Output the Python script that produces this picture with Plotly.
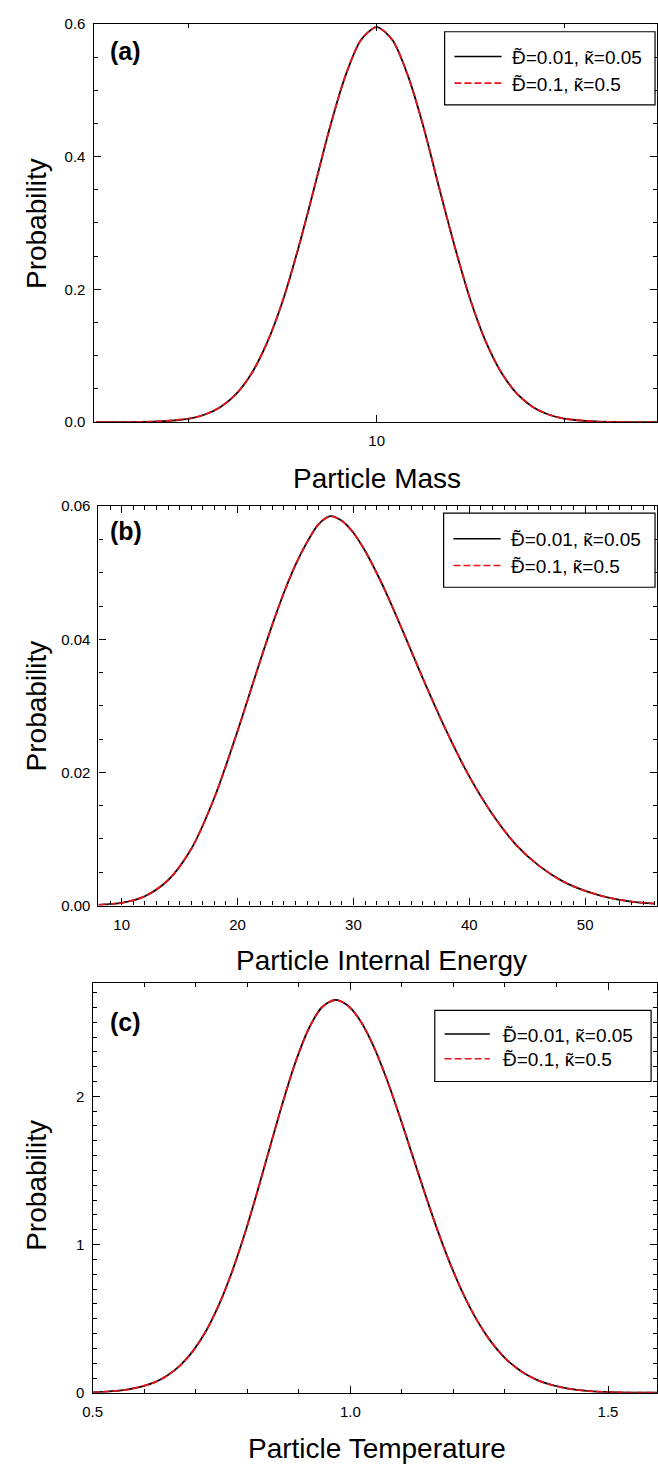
import plotly.graph_objects as go

# ---------------- data ----------------
series_names = ["Đ̃=0.01, ĸ̃=0.05", "Đ̃=0.1, ĸ̃=0.5"]

mass = [3.548, 3.981, 4.467, 5.012, 5.309, 5.623, 5.957, 6.310, 6.683, 7.079,
        7.499, 7.943, 8.414, 8.913, 9.441, 10.0, 10.59, 11.22, 11.89, 12.59,
        13.34, 14.13, 14.96, 15.85, 16.79, 17.78, 18.84, 19.95, 22.39, 25.12, 28.18]
prob_mass_low = [0.00001, 0.00014, 0.00101, 0.00548, 0.0116, 0.0230, 0.0426, 0.0741, 0.1209, 0.184,
                 0.264, 0.353, 0.444, 0.522, 0.576, 0.595, 0.576, 0.522, 0.444, 0.353,
                 0.264, 0.184, 0.1209, 0.0741, 0.0426, 0.0230, 0.0116, 0.00548, 0.00101, 0.00014, 0.00001]
prob_mass_high = [0.00001, 0.00014, 0.00101, 0.00548, 0.0116, 0.0230, 0.0426, 0.0741, 0.1209, 0.184,
                  0.264, 0.353, 0.444, 0.522, 0.576, 0.595, 0.576, 0.522, 0.444, 0.353,
                  0.264, 0.184, 0.1209, 0.0741, 0.0426, 0.0230, 0.0116, 0.00548, 0.00101, 0.00014, 0.00001]

energy = [8, 10, 12, 14, 16, 18, 20, 21, 22, 23, 24, 25, 26, 27, 28, 29, 30, 31, 32, 33, 34,
          35, 36, 38, 40, 42, 44, 46, 48, 50, 52, 54, 56]
prob_energy_low = [0.0001, 0.0004, 0.0014, 0.0038, 0.0085, 0.0162, 0.0262, 0.0316, 0.0370, 0.0422,
                   0.0470, 0.0512, 0.0546, 0.0573, 0.0585, 0.0578, 0.0560, 0.0533, 0.0500, 0.0463,
                   0.0423, 0.0382, 0.0341, 0.0263, 0.0194, 0.0137, 0.0092, 0.0060, 0.0037, 0.0022,
                   0.0012, 0.0006, 0.0003]
prob_energy_high = [0.0001, 0.0004, 0.0014, 0.0038, 0.0085, 0.0162, 0.0262, 0.0316, 0.0370, 0.0422,
                    0.0470, 0.0512, 0.0546, 0.0573, 0.0585, 0.0578, 0.0560, 0.0533, 0.0500, 0.0463,
                    0.0423, 0.0382, 0.0341, 0.0263, 0.0194, 0.0137, 0.0092, 0.0060, 0.0037, 0.0022,
                    0.0012, 0.0006, 0.0003]

temperature = [0.50, 0.52, 0.57, 0.62, 0.645, 0.67, 0.695, 0.72, 0.745, 0.77, 0.795, 0.82, 0.845,
               0.87, 0.895, 0.92, 0.945, 0.97, 0.995, 1.02, 1.045, 1.07, 1.095, 1.12, 1.145, 1.17,
               1.195, 1.22, 1.245, 1.27, 1.295, 1.32, 1.345, 1.37, 1.42, 1.47, 1.52, 1.57, 1.595]
prob_temp_low = [0.0038, 0.0066, 0.0233, 0.0707, 0.1164, 0.1848, 0.283, 0.417, 0.593, 0.812, 1.071,
                 1.362, 1.669, 1.971, 2.244, 2.461, 2.601, 2.650, 2.613, 2.507, 2.339, 2.122, 1.873,
                 1.607, 1.342, 1.089, 0.860, 0.661, 0.494, 0.359, 0.253, 0.174, 0.1164, 0.0757,
                 0.0294, 0.0103, 0.0032, 0.0009, 0.0005]
prob_temp_high = [0.0038, 0.0066, 0.0233, 0.0707, 0.1164, 0.1848, 0.283, 0.417, 0.593, 0.812, 1.071,
                  1.362, 1.669, 1.971, 2.244, 2.461, 2.601, 2.650, 2.613, 2.507, 2.339, 2.122, 1.873,
                  1.607, 1.342, 1.089, 0.860, 0.661, 0.494, 0.359, 0.253, 0.174, 0.1164, 0.0757,
                  0.0294, 0.0103, 0.0032, 0.0009, 0.0005]

panel_labels = ["(a)", "(b)", "(c)"]
x_titles = ["Particle Mass", "Particle Internal Energy", "Particle Temperature"]
y_title = "Probability"

# ---------------- figure ----------------
W, H = 658, 1473
FONT = "Arial, 'Liberation Sans', Helvetica, sans-serif"
RED = "#e8141c"
DASH = "7px,3px"


def px_x(p):
    return p / W


def px_y(p):
    return 1 - p / H


fig = go.Figure()

panels = [
    (mass, prob_mass_low, prob_mass_high, "x", "y"),
    (energy, prob_energy_low, prob_energy_high, "x2", "y2"),
    (temperature, prob_temp_low, prob_temp_high, "x3", "y3"),
]
for xs, y_lo, y_hi, xa, ya in panels:
    fig.add_trace(go.Scatter(x=xs, y=y_lo, mode="lines", name=series_names[0],
                             line=dict(color="black", width=1.8, shape="spline", smoothing=0.8),
                             xaxis=xa, yaxis=ya, showlegend=False))
    fig.add_trace(go.Scatter(x=xs, y=y_hi, mode="lines", name=series_names[1],
                             line=dict(color=RED, width=1.8, dash=DASH, shape="spline", smoothing=0.8),
                             xaxis=xa, yaxis=ya, showlegend=False))

minor_common = dict(ticks="inside", ticklen=4, tickcolor="black", tickwidth=1.2)
axis_common = dict(showline=True, linecolor="black", linewidth=1.3, mirror="allticks",
                   showgrid=False, zeroline=False, ticks="inside", ticklen=7, tickwidth=1.2,
                   tickcolor="black", tickfont=dict(family=FONT, size=15, color="black"))

fig.update_layout(
    width=W, height=H,
    margin=dict(l=0, r=0, t=0, b=0),
    paper_bgcolor="white", plot_bgcolor="white",
    font=dict(family=FONT, color="black"),
    showlegend=False,
    xaxis=dict(axis_common, domain=[px_x(85), 1.0], anchor="y", type="log",
               range=[0.5465, 1.449], tickmode="array", tickvals=[10], ticktext=["10"],
               ticklabelstandoff=5,
               minor=dict(minor_common, tickmode="array", tickvals=[5, 20])),
    yaxis=dict(axis_common, domain=[px_y(418), px_y(15)], anchor="x", range=[0, 0.6],
               dtick=0.2, tickformat=".1f", ticklabelstandoff=4,
               minor=dict(minor_common, dtick=0.05)),
    xaxis2=dict(axis_common, domain=[px_x(90), 1.0], anchor="y2", range=[8, 56.2],
                tick0=0, dtick=10, ticklabelstandoff=5,
                minor=dict(minor_common, dtick=1)),
    yaxis2=dict(axis_common, domain=[px_y(907), px_y(503)], anchor="x2", range=[0, 0.06],
                dtick=0.02, tickformat=".2f", ticklabelstandoff=4,
                minor=dict(minor_common, dtick=0.005)),
    xaxis3=dict(axis_common, domain=[px_x(84), 1.0], anchor="y3", range=[0.5, 1.595],
                tick0=0.5, dtick=0.5, tickformat=".1f", ticklabelstandoff=5,
                minor=dict(minor_common, dtick=0.1)),
    yaxis3=dict(axis_common, domain=[px_y(1400), px_y(985)], anchor="x3", range=[0, 2.767],
                dtick=1, tickformat="d", ticklabelstandoff=4,
                minor=dict(minor_common, dtick=0.1)),
)

# ---- legends drawn as boxes (pixel geometry of the reference) ----
# (box_left, box_top, box_right, box_bottom, line_x0, line_x1, text_x, row1_y, row2_y)
legend_boxes = [
    (442, 23, 656, 97, 452, 500, 508, 48, 75),
    (441, 510, 656, 585, 451, 499, 507, 536, 563),
    (432, 1013, 652, 1085, 442, 488, 499, 1037, 1062),
]
for bl, bt, br, bb, lx0, lx1, tx, r1, r2 in legend_boxes:
    fig.add_shape(type="rect", xref="paper", yref="paper",
                  x0=px_x(bl), x1=px_x(br), y0=px_y(bb), y1=px_y(bt),
                  line=dict(color="black", width=1.2), fillcolor="white", layer="above")
    for ry, nm, col, dash in [(r1, series_names[0], "black", "solid"),
                              (r2, series_names[1], RED, DASH)]:
        fig.add_shape(type="line", xref="paper", yref="paper",
                      x0=px_x(lx0), x1=px_x(lx1), y0=px_y(ry), y1=px_y(ry),
                      line=dict(color=col, width=1.6, dash=dash), layer="above")
        fig.add_annotation(text=nm, xref="paper", yref="paper", x=px_x(tx), y=px_y(ry + 1),
                           xanchor="left", yanchor="middle", showarrow=False,
                           font=dict(family=FONT, size=19, color="black"))

# panel labels
for lab, yc in zip(panel_labels, [42, 528, 1025]):
    fig.add_annotation(text="<b>%s</b>" % lab, xref="paper", yref="paper",
                       x=px_x(100), y=px_y(yc), xanchor="left", yanchor="middle",
                       showarrow=False, font=dict(family=FONT, size=25, color="black"))

# x-axis titles
for t, xc, yc in zip(x_titles, [373, 378, 373], [475, 963, 1456]):
    fig.add_annotation(text=t, xref="paper", yref="paper", x=px_x(xc), y=px_y(yc),
                       xanchor="center", yanchor="middle", showarrow=False,
                       font=dict(family=FONT, size=28, color="black"))

# y-axis titles
for yc in [217, 705, 1190]:
    fig.add_annotation(text=y_title, xref="paper", yref="paper", x=px_x(27), y=px_y(yc),
                       xanchor="center", yanchor="middle", textangle=-90, showarrow=False,
                       font=dict(family=FONT, size=28, color="black"))

fig.write_html("out.html", config={"displayModeBar": False},
               post_script="document.body.style.margin='0';document.body.style.overflow='hidden';")
